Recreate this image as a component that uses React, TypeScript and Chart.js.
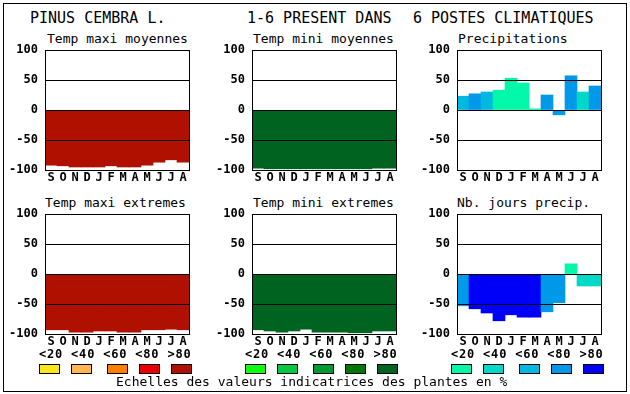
import React, { useEffect, useRef } from "react";
import { Chart, registerables } from "chart.js";
Chart.register(...registerables);

const months = ["S", "O", "N", "D", "J", "F", "M", "A", "M", "J", "J", "A"];
const yTicks = [100, 50, 0, -50, -100];
const scaleLabels = ["<20", "<40", "<60", "<80", ">80"];

const tempMaxMoy = [-92, -93, -95, -95, -95, -93, -95, -95, -92, -87, -83, -87];
const tempMinMoy = [-97, -98, -98, -98, -98, -98, -98, -98, -98, -98, -97, -97];
const precip = [23, 27, 30, 33, 53, 45, 2, 25, -8, 57, 30, 40];
const precipClass = [2, 3, 2, 0, 0, 0, 0, 3, 3, 3, 1, 3];
const tempMaxExt = [-93, -93, -97, -97, -95, -95, -97, -97, -93, -93, -92, -93];
const tempMinExt = [-93, -95, -97, -95, -92, -97, -97, -97, -98, -98, -95, -95];
const joursPrecip = [-53, -58, -65, -78, -68, -72, -72, -63, -48, 17, -20, -20];
const joursClass = [3, 4, 4, 4, 4, 4, 4, 3, 3, 0, 1, 1];

const redScale = ["#F8E818", "#FFB850", "#FF8000", "#E80000", "#B01000"];
const greenScale = ["#10FF10", "#00C840", "#009830", "#007800", "#006420"];
const blueScale = ["#00F8A8", "#00D8C8", "#00B8E0", "#0098E8", "#0000F8"];

const FONT = "'DejaVu Sans Mono', monospace";
const Y_W = 40;
const PAD_T = 8;
const PAD_R = 6;
const PLOT_W = 144;
const PLOT_H = 120;
const X_H = 16;
const W = Y_W + PLOT_W + PAD_R;
const H = PAD_T + PLOT_H + X_H;

const framePlugin = {
  id: "frame",
  afterDraw(chart: any) {
    const { ctx, chartArea } = chart;
    ctx.save();
    ctx.strokeStyle = "#000";
    ctx.lineWidth = 1;
    ctx.strokeRect(
      Math.round(chartArea.left) + 0.5,
      Math.round(chartArea.top) + 0.5,
      Math.round(chartArea.right - chartArea.left),
      Math.round(chartArea.bottom - chartArea.top)
    );
    ctx.restore();
  },
};

function Panel(props: { left: number; top: number; values: number[]; colors: string[] }) {
  const ref = useRef<HTMLCanvasElement>(null);
  useEffect(() => {
    const tickFont = { family: FONT, size: 12, weight: "bold" as const };
    const chart = new Chart(ref.current as HTMLCanvasElement, {
      type: "bar",
      data: {
        labels: months,
        datasets: [
          {
            data: props.values,
            backgroundColor: props.colors,
            borderWidth: 0,
            barPercentage: 1,
            categoryPercentage: 1,
          },
        ],
      },
      options: {
        animation: false,
        responsive: false,
        maintainAspectRatio: false,
        devicePixelRatio: 1,
        layout: { padding: { top: PAD_T, right: PAD_R, left: 0, bottom: 0 } },
        plugins: { legend: { display: false }, tooltip: { enabled: false } },
        scales: {
          x: {
            grid: { display: false, drawTicks: false },
            border: { display: false },
            ticks: { font: tickFont, color: "#000", padding: 1, autoSkip: false, maxRotation: 0, minRotation: 0 },
            afterFit: (s: any) => {
              s.height = X_H;
              s.paddingLeft = 0;
              s.paddingRight = 0;
              s.paddingTop = 0;
              s.paddingBottom = 0;
            },
          },
          y: {
            min: -100,
            max: 100,
            afterBuildTicks: (s: any) => {
              s.ticks = yTicks.map((v) => ({ value: v }));
            },
            grid: { color: "#000", lineWidth: 1, drawTicks: false, z: 1 },
            border: { display: false },
            ticks: { font: tickFont, color: "#000", padding: 7 },
            afterFit: (s: any) => {
              s.width = Y_W;
              s.paddingLeft = 0;
              s.paddingRight = 0;
              s.paddingTop = 0;
              s.paddingBottom = 0;
            },
          },
        },
      } as any,
      plugins: [framePlugin],
    });
    return () => chart.destroy();
  }, []);
  return (
    <canvas
      ref={ref}
      width={W}
      height={H}
      style={{ position: "absolute", left: props.left - Y_W, top: props.top - PAD_T, width: W, height: H }}
    />
  );
}

const txt = (extra: React.CSSProperties): React.CSSProperties => ({
  position: "absolute",
  fontFamily: FONT,
  color: "#000",
  whiteSpace: "pre",
  ...extra,
});

export default function App() {
  const cols = [45, 252, 457];
  const rows = [50, 214];
  const boxX = [
    [39, 71, 107, 139, 171],
    [245, 277, 313, 345, 377],
    [451, 483, 519, 551, 583],
  ];
  const scales = [redScale, greenScale, blueScale];
  return (
    <div style={{ position: "fixed", left: 0, top: 0, width: 630, height: 394, background: "#fff", overflow: "hidden" }}>
      <div style={{ position: "absolute", left: 3, top: 3, width: 622, height: 387, border: "1px solid #000" }} />
      <div style={txt({ left: 30, top: 11, fontSize: 15, lineHeight: "15px" })}>PINUS CEMBRA L.</div>
      <div style={txt({ left: 247, top: 11, fontSize: 15, lineHeight: "15px" })}>1-6 PRESENT DANS</div>
      <div style={txt({ left: 413, top: 11, fontSize: 15, lineHeight: "15px" })}>6 POSTES CLIMATIQUES</div>

      <div style={txt({ left: 47, top: 32, fontSize: 13, lineHeight: "13px" })}>Temp maxi moyennes</div>
      <div style={txt({ left: 253, top: 32, fontSize: 13, lineHeight: "13px" })}>Temp mini moyennes</div>
      <div style={txt({ left: 458, top: 32, fontSize: 13, lineHeight: "13px" })}>Precipitations</div>
      <div style={txt({ left: 45, top: 196, fontSize: 13, lineHeight: "13px" })}>Temp maxi extremes</div>
      <div style={txt({ left: 253, top: 196, fontSize: 13, lineHeight: "13px" })}>Temp mini extremes</div>
      <div style={txt({ left: 457, top: 196, fontSize: 13, lineHeight: "13px" })}>Nb. jours precip.</div>

      <Panel left={cols[0]} top={rows[0]} values={tempMaxMoy} colors={tempMaxMoy.map(() => redScale[4])} />
      <Panel left={cols[1]} top={rows[0]} values={tempMinMoy} colors={tempMinMoy.map(() => greenScale[4])} />
      <Panel left={cols[2]} top={rows[0]} values={precip} colors={precipClass.map((c) => blueScale[c])} />
      <Panel left={cols[0]} top={rows[1]} values={tempMaxExt} colors={tempMaxExt.map(() => redScale[4])} />
      <Panel left={cols[1]} top={rows[1]} values={tempMinExt} colors={tempMinExt.map(() => greenScale[4])} />
      <Panel left={cols[2]} top={rows[1]} values={joursPrecip} colors={joursClass.map((c) => blueScale[c])} />

      {boxX.map((xs, g) => (
        <React.Fragment key={g}>
          <div
            style={txt({
              left: xs[0],
              top: 347,
              fontSize: 12,
              fontWeight: "bold",
              lineHeight: "14px",
              letterSpacing: "0.8px",
            })}
          >
            {scaleLabels.join(" ")}
          </div>
          {xs.map((x, i) => (
            <div
              key={i}
              style={{
                position: "absolute",
                left: x,
                top: 364,
                width: 19,
                height: 8,
                border: "1px solid #000",
                background: scales[g][i],
              }}
            />
          ))}
        </React.Fragment>
      ))}
      <div style={txt({ left: 116, top: 375, fontSize: 13, lineHeight: "13px" })}>
        Echelles des valeurs indicatrices des plantes en %
      </div>
    </div>
  );
}
